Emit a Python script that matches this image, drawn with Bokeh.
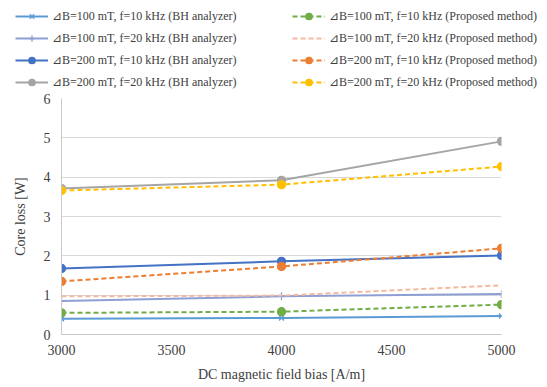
from bokeh.plotting import figure
from bokeh.layouts import column
from bokeh.models import Legend, LegendItem, FixedTicker, Range1d
from bokeh.embed import file_html
from bokeh.resources import INLINE

bias = [3000, 4000, 5000]
bh_100_10 = [0.40, 0.42, 0.47]
bh_100_20 = [0.85, 0.97, 1.03]
bh_200_10 = [1.68, 1.86, 2.01]
bh_200_20 = [3.71, 3.92, 4.91]
pm_100_10 = [0.55, 0.58, 0.76]
pm_100_20 = [0.97, 0.99, 1.25]
pm_200_10 = [1.35, 1.73, 2.19]
pm_200_20 = [3.66, 3.81, 4.27]

labels_bh = ["⊿B=100 mT, f=10 kHz (BH analyzer)", "⊿B=100 mT, f=20 kHz (BH analyzer)",
             "⊿B=200 mT, f=10 kHz (BH analyzer)", "⊿B=200 mT, f=20 kHz (BH analyzer)"]
labels_pm = ["⊿B=100 mT, f=10 kHz (Proposed method)", "⊿B=100 mT, f=20 kHz (Proposed method)",
             "⊿B=200 mT, f=10 kHz (Proposed method)", "⊿B=200 mT, f=20 kHz (Proposed method)"]
x_ticks = [3000, 3500, 4000, 4500, 5000]
y_ticks = [0, 1, 2, 3, 4, 5, 6]

FONT = "Liberation Serif"
TXT = "#404040"

series = [
    (bias, bh_100_10, "#5B9BD5", None, "x", 7),
    (bias, bh_100_20, "#8E9FD6", None, "cross", 8),
    (bias, bh_200_10, "#4472C4", None, "circle", 8),
    (bias, bh_200_20, "#A5A5A5", None, "circle", 8),
    (bias, pm_100_10, "#70AD47", "5 3", "circle", 8),
    (bias, pm_100_20, "#F4B9A0", "5 3", None, 0),
    (bias, pm_200_10, "#ED7D31", "5 3", "circle", 8),
    (bias, pm_200_20, "#FFC000", "5 3", "circle", 8),
]

# ---------------- main chart ----------------
p = figure(width=547, height=297, output_backend="svg", toolbar_location=None,
           x_range=Range1d(3000, 5000), y_range=Range1d(0, 6), frame_align=False,
           min_border_left=61, min_border_right=46, min_border_top=8, min_border_bottom=53)
p.outline_line_color = None

for ax in (p.xaxis[0], p.yaxis[0]):
    ax.axis_line_color = "#C8C8C8"
    ax.major_tick_line_color = None
    ax.minor_tick_line_color = None
    ax.major_tick_out = 0
    ax.major_tick_in = 0
    ax.major_label_text_font = FONT
    ax.major_label_text_font_size = "14px"
    ax.major_label_text_color = TXT
    ax.axis_label_text_font = FONT
    ax.axis_label_text_font_size = "14px"
    ax.axis_label_text_font_style = "normal"
    ax.axis_label_text_color = TXT
p.xaxis.ticker = FixedTicker(ticks=x_ticks)
p.yaxis.ticker = FixedTicker(ticks=y_ticks)
p.xaxis.axis_label = "DC magnetic field bias [A/m]"
p.yaxis.axis_label = "Core loss [W]"
p.xaxis.major_label_standoff = 10
p.xaxis.axis_label_standoff = 9
p.yaxis.major_label_standoff = 11
p.yaxis.axis_label_standoff = 13
p.xgrid.grid_line_color = None
p.ygrid.grid_line_color = "#D9D9D9"

for xs, ys, col, dash, mk, sz in series:
    if dash:
        p.line(xs, ys, color=col, line_width=2, line_dash=dash)
    else:
        p.line(xs, ys, color=col, line_width=2)
    if mk:
        p.scatter(xs, ys, marker=mk, size=sz, color=col, line_width=1.3)

# ---------------- legend strip ----------------
lf = figure(width=547, height=90, output_backend="svg", toolbar_location=None,
            x_range=Range1d(0, 1), y_range=Range1d(0, 1), frame_align=False,
            x_axis_location=None, y_axis_location=None,
            min_border_left=0, min_border_right=0, min_border_top=0, min_border_bottom=0)
lf.grid.visible = False
lf.outline_line_color = None

off = [5, 6]  # legend-only renderers, drawn outside the visible range
items = []
for (xs, ys, col, dash, mk, sz), lab in zip(series, labels_bh + labels_pm):
    if dash:
        r = lf.line(off, off, color=col, line_width=2, line_dash=dash)
    else:
        r = lf.line(off, off, color=col, line_width=2)
    rs = [r]
    if mk:
        rs.append(lf.scatter(off, off, marker=mk, size=sz, color=col, line_width=1.3))
    items.append(LegendItem(label=lab, renderers=rs))

def mk_legend(its, loc):
    lg = Legend(items=its, location=loc, orientation="vertical")
    lg.padding = 0
    lg.margin = 0
    lg.spacing = 6
    lg.glyph_width = 33
    lg.glyph_height = 16
    lg.label_height = 16
    lg.label_standoff = 4
    lg.label_text_font = FONT
    lg.label_text_font_size = "12px"
    lg.label_text_color = TXT
    lg.border_line_alpha = 0
    lg.background_fill_alpha = 0
    return lg

lf.add_layout(mk_legend(items[:4], (15, 0)), "center")
lf.add_layout(mk_legend(items[4:], (292, 0)), "center")

layout = column(lf, p)
open("out.html", "w").write(file_html(layout, INLINE))
